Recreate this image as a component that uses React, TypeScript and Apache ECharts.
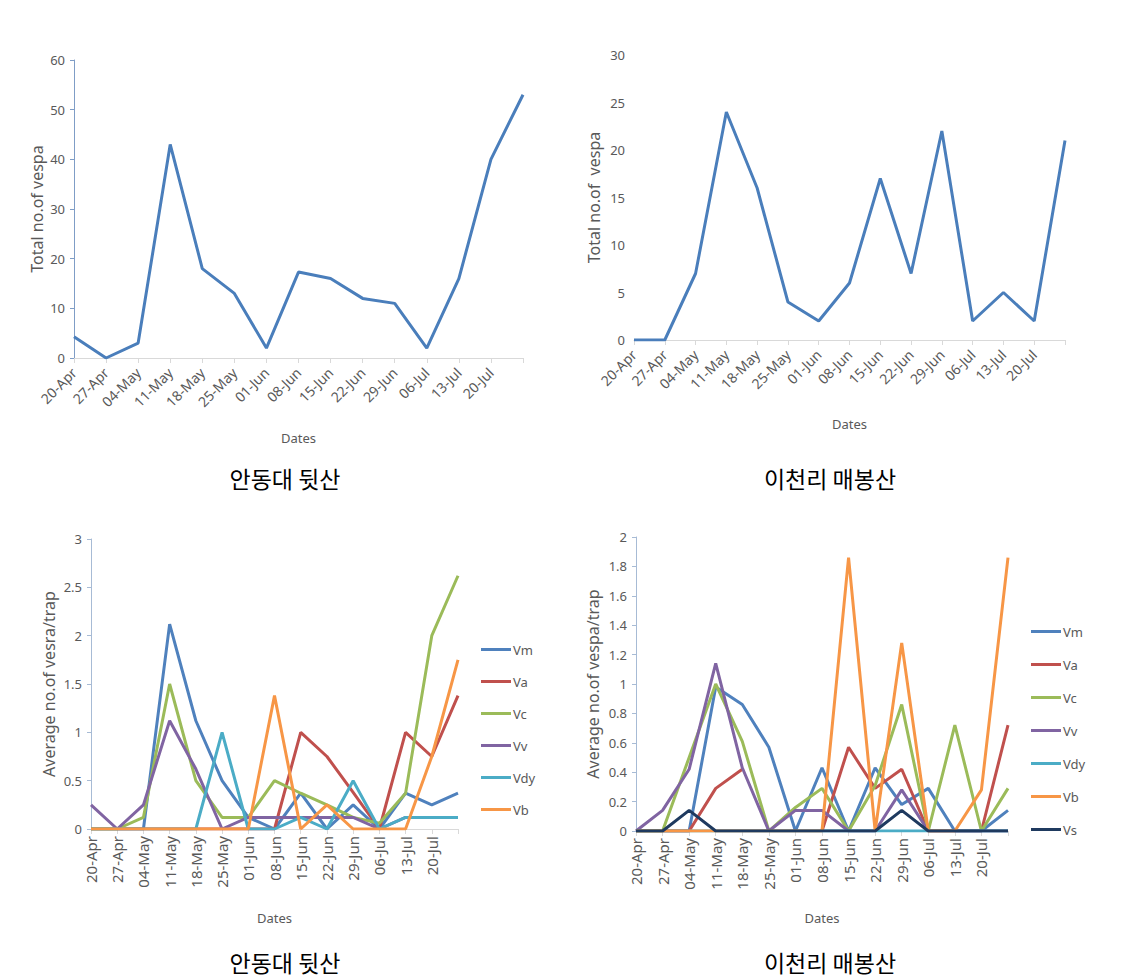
import React, { useEffect, useRef } from "react";
import * as echarts from "echarts";

// ---------- data ----------
const dates = [
  "20-Apr", "27-Apr", "04-May", "11-May", "18-May", "25-May", "01-Jun",
  "08-Jun", "15-Jun", "22-Jun", "29-Jun", "06-Jul", "13-Jul", "20-Jul", "27-Jul",
];
const labelledCount = 14; // the last survey date has no tick label

const andongTotal = [4.3, 0, 3, 43, 18, 13, 2, 17.3, 16, 12, 11, 2, 16, 40, 53];
const icheonTotal = [0, 0, 7, 24, 16, 4, 2, 6, 17, 7, 22, 2, 5, 2, 21];

const speciesNames = ["Vm", "Va", "Vc", "Vv", "Vdy", "Vb", "Vs"];

const andongVm = [0, 0, 0, 2.12, 1.12, 0.5, 0.12, 0, 0.37, 0, 0.25, 0, 0.37, 0.25, 0.37];
const andongVa = [0, 0, 0, 0, 0, 0, 0, 0, 1.0, 0.75, 0.38, 0, 1.0, 0.75, 1.38];
const andongVc = [0, 0, 0.12, 1.5, 0.5, 0.12, 0.12, 0.5, 0.37, 0.25, 0.12, 0.06, 0.37, 2.0, 2.62];
const andongVv = [0.25, 0, 0.25, 1.12, 0.62, 0, 0.12, 0.12, 0.12, 0.12, 0.12, 0, 0.12, 0.12, 0.12];
const andongVdy = [0, 0, 0, 0, 0, 1.0, 0, 0, 0.12, 0, 0.5, 0, 0.12, 0.12, 0.12];
const andongVb = [0, 0, 0, 0, 0, 0, 0, 1.38, 0, 0.25, 0, 0, 0, 0.75, 1.75];

const icheonVm = [0, 0, 0, 0.98, 0.86, 0.57, 0, 0.43, 0, 0.43, 0.18, 0.29, 0, 0, 0.14];
const icheonVa = [0, 0, 0, 0.29, 0.42, null, null, 0, 0.57, 0.29, 0.42, 0, 0, 0, 0.72];
const icheonVc = [0, 0, 0.5, 1.0, 0.61, 0, 0.16, 0.29, 0, 0.31, 0.86, 0, 0.72, 0, 0.29];
const icheonVv = [0, 0.14, 0.42, 1.14, 0.43, 0, 0.14, 0.14, 0, 0, 0.28, 0, 0, 0, 0];
const icheonVdy = [0, 0, 0, 0, 0, 0, 0, 0, 0, 0, 0, 0, 0, 0, 0];
const icheonVb = [0, 0, 0, 0, 0, 0, 0, 0, 1.86, 0, 1.28, 0, 0, 0.28, 1.86];
const icheonVs = [0, 0, 0.14, 0, 0, 0, 0, 0, 0, 0, 0.14, 0, 0, 0, 0];

const captions = ["안동대 뒷산", "이천리 매봉산", "안동대 뒷산", "이천리 매봉산"];

// ---------- styling ----------
const speciesColors: Record<string, string> = {
  Vm: "#4F81BD",
  Va: "#C0504D",
  Vc: "#9BBB59",
  Vv: "#8064A2",
  Vdy: "#4BACC6",
  Vb: "#F79646",
  Vs: "#1F3A5F",
};
const FONT = "'Noto Sans', 'DejaVu Sans', sans-serif";
const GREY = "#595959";
const LEGEND_ICON = "path://M0,0L30,0L30,3L0,3Z";

function xAxisFor(gridIndex: number, rotate: number, fontSize: number, nameGap: number, margin: number) {
  return {
    type: "category",
    gridIndex,
    data: dates,
    boundaryGap: false,
    name: "Dates",
    nameLocation: "middle",
    nameGap,
    nameTextStyle: { color: GREY, fontSize: 13, fontFamily: FONT },
    axisLine: { show: true, lineStyle: { color: "#D9D9D9", width: 1 } },
    axisTick: { show: true, alignWithLabel: true, length: 5, lineStyle: { color: "#D9D9D9" } },
    axisLabel: {
      interval: 0,
      rotate,
      margin,
      color: GREY,
      fontSize,
      fontFamily: FONT,
      formatter: (v: string, i: number) => (i < labelledCount ? v : ""),
    },
    splitLine: { show: false },
  };
}

function yAxisFor(
  gridIndex: number,
  max: number,
  interval: number,
  name: string,
  nameGap: number,
  showLine: boolean,
  lineColor: string
) {
  return {
    type: "value",
    gridIndex,
    min: 0,
    max,
    interval,
    name,
    nameLocation: "middle",
    nameGap,
    nameTextStyle: { color: GREY, fontSize: 16, fontFamily: FONT },
    axisLine: { show: showLine, lineStyle: { color: lineColor, width: 1 } },
    axisTick: { show: showLine, length: 4, lineStyle: { color: lineColor } },
    axisLabel: { color: GREY, fontSize: 13, fontFamily: FONT, margin: 9 },
    splitLine: { show: false },
  };
}

function lineSeries(name: string, data: (number | null)[], idx: number, color: string, width = 3) {
  return {
    type: "line",
    name,
    data,
    xAxisIndex: idx,
    yAxisIndex: idx,
    showSymbol: false,
    symbol: "none",
    connectNulls: false,
    lineStyle: { color, width },
    itemStyle: { color },
    silent: true,
  };
}

function legendFor(names: string[], left: number, top: number, itemGap: number) {
  return {
    data: names.map((n) => ({ name: n, icon: LEGEND_ICON })),
    orient: "vertical",
    left,
    top,
    padding: 0,
    itemWidth: 30,
    itemHeight: 14,
    itemGap,
    symbolKeepAspect: true,
    textStyle: { color: GREY, fontSize: 13, fontFamily: FONT, padding: [0, 0, 0, -3] },
    selectedMode: false,
  };
}

export default function App() {
  const ref = useRef<HTMLDivElement>(null);

  useEffect(() => {
    if (!ref.current) return;
    const chart = echarts.init(ref.current, undefined, { renderer: "svg" });

    const andongSpecies = [andongVm, andongVa, andongVc, andongVv, andongVdy, andongVb];
    const icheonSpecies = [icheonVm, icheonVa, icheonVc, icheonVv, icheonVdy, icheonVb, icheonVs];

    const series: any[] = [
      lineSeries("Total-A", andongTotal, 0, "#4A7EBB", 3),
      lineSeries("Total-B", icheonTotal, 1, "#4A7EBB", 3),
    ];
    andongSpecies.forEach((d, i) => series.push(lineSeries(speciesNames[i], d, 2, speciesColors[speciesNames[i]])));
    icheonSpecies.forEach((d, i) => series.push(lineSeries(speciesNames[i], d, 3, speciesColors[speciesNames[i]])));

    const captionPos = [
      [285, 478],
      [830, 478],
      [285, 962],
      [830, 962],
    ];

    const option: any = {
      animation: false,
      backgroundColor: "#ffffff",
      grid: [
        { left: 74, top: 60, width: 449, height: 298 },
        { left: 634, top: 55, width: 431, height: 285 },
        { left: 91, top: 539, width: 367, height: 290 },
        { left: 636, top: 537, width: 372, height: 294 },
      ],
      xAxis: [
        xAxisFor(0, 45, 14, 73, 12),
        xAxisFor(1, 45, 14, 77, 12),
        xAxisFor(2, 90, 15, 82, 7),
        xAxisFor(3, 90, 15, 80, 7),
      ],
      yAxis: [
        yAxisFor(0, 60, 10, "Total no.of vespa", 29, true, "#7F9DC6"),
        yAxisFor(1, 30, 5, "Total no.of  vespa", 32, false, "#7F9DC6"),
        yAxisFor(2, 3, 0.5, "Average no.of vesra/trap", 34, true, "#A7BBD5"),
        yAxisFor(3, 2, 0.2, "Average no.of vespa/trap", 35, true, "#A7BBD5"),
      ],
      legend: [
        legendFor(speciesNames.slice(0, 6), 481, 643, 19),
        legendFor(speciesNames, 1031, 625, 20),
      ],
      graphic: captions.map((t, i) => ({
        type: "text",
        x: captionPos[i][0],
        y: captionPos[i][1],
        style: {
          text: t,
          fill: "#000000",
          fontSize: 23,
          fontFamily: "'Noto Sans CJK KR', sans-serif",
          align: "center",
          verticalAlign: "middle",
        },
      })),
      series,
    };

    chart.setOption(option);
    return () => chart.dispose();
  }, []);

  return (
    <div
      ref={ref}
      style={{ position: "absolute", left: 0, top: 0, width: 1131, height: 979 }}
    />
  );
}
